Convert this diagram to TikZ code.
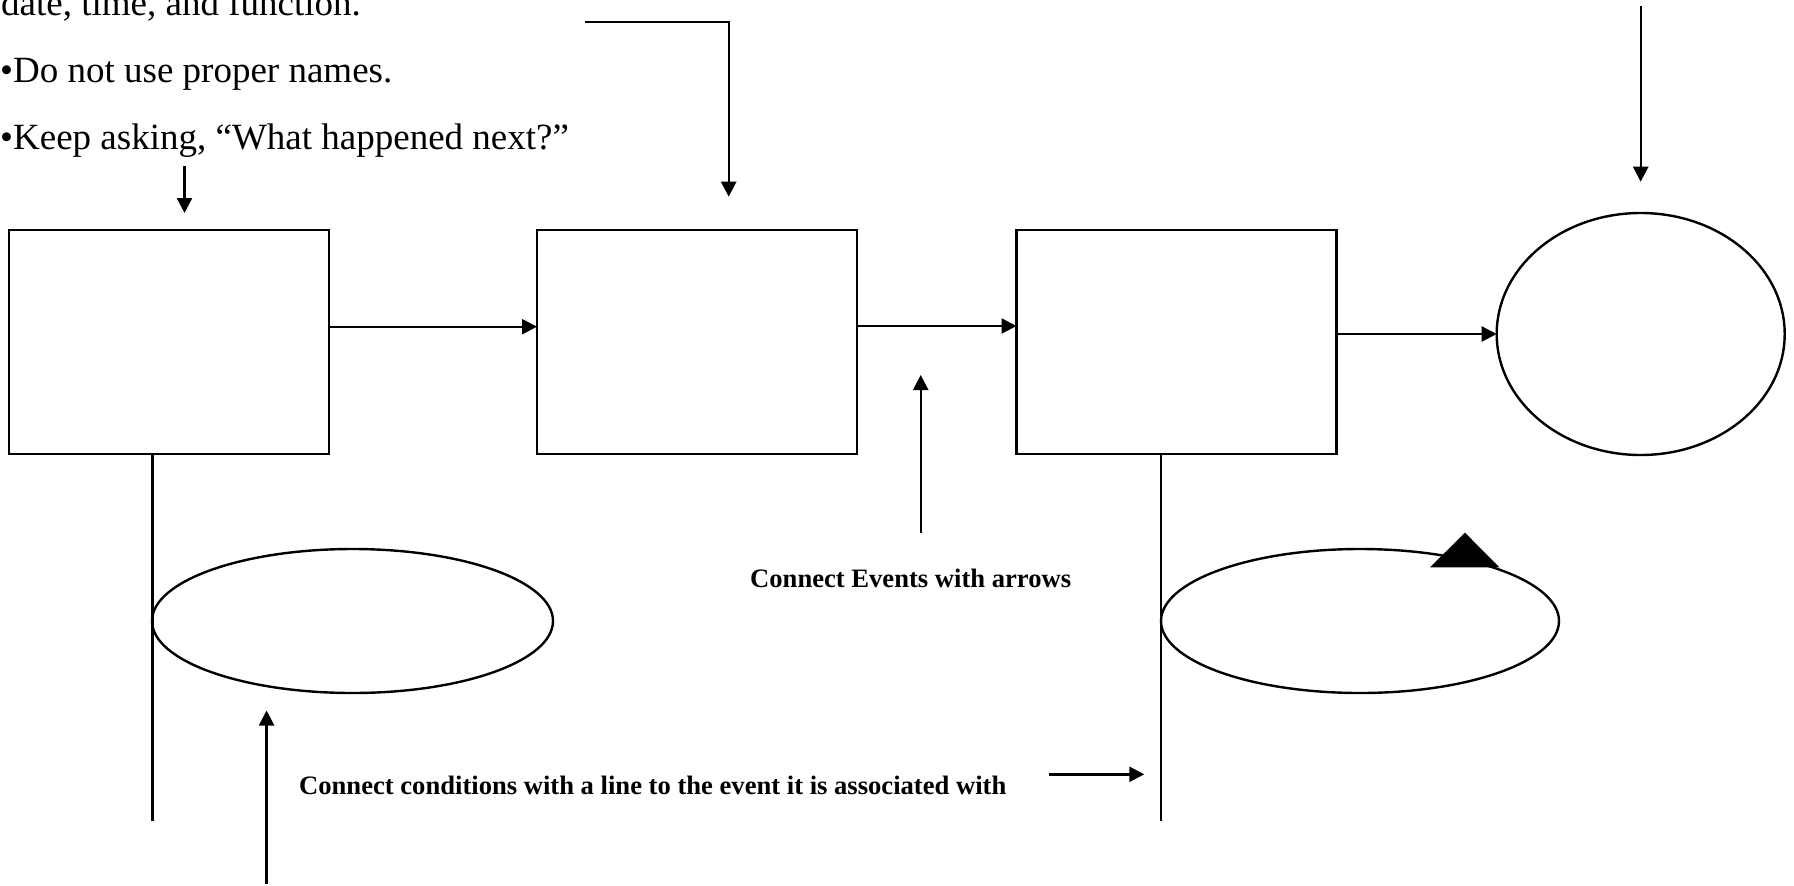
\documentclass[tikz,border=0pt]{standalone}
\usepackage{fontspec}
\setmainfont{Liberation Serif}
\usetikzlibrary{arrows.meta,shapes.geometric}
\begin{document}
\begin{tikzpicture}[x=1pt,y=-1pt,
  ln/.style={line width=2.4pt},
  arr/.style={line width=2.4pt,-{Triangle[length=15pt,width=15pt]}},
  evt/.style={draw,line width=2.4pt,rectangle,minimum width=320pt,minimum height=224pt,inner sep=0pt,outer sep=0pt},
  cond/.style={draw,line width=2.4pt,ellipse,inner sep=0pt,outer sep=0pt},
  big/.style={font=\fontsize{37}{44}\selectfont,anchor=base west,inner sep=0pt},
  lbl/.style={font=\fontsize{26.6}{32}\selectfont\bfseries,anchor=base west,inner sep=0pt}]
\useasboundingbox (0,0) rectangle (1794,886);
\clip (0,0) rectangle (1794,886);
% texts
\node[big] (t1) at (1,15) {date, time, and function.};
\node[big] (t2) at (0,82) {•Do not use proper names.};
\node[big] (t3) at (0,149) {•Keep asking, “What happened next?”};
\node[lbl] (le) at (750,587) {Connect Events with arrows};
\node[lbl] (lc) at (299,794) {Connect conditions with a line to the event it is associated with};
% events
\node[evt] (b1) at (169,342) {};
\node[evt] (b2) at (697,342) {};
\node[evt] (b3) at (1176.5,342) {};
\node[cond,minimum width=288pt,minimum height=242pt] (c) at (1640.7,334) {};
% conditions
\node[cond,minimum width=401pt,minimum height=144pt] (e1) at (352.5,621) {};
\node[cond,minimum width=398pt,minimum height=144pt] (e2) at (1360,621) {};
% coordinates
\coordinate (a1s) at (184.5,166);
\coordinate (a1e) at (184.5,213);
\coordinate (a2s) at (585,22);
\coordinate (a2k) at (728.7,22);
\coordinate (a2e) at (728.7,196.7);
\coordinate (a3s) at (1640.7,6);
\coordinate (a3e) at (1640.7,181.7);
\coordinate (l1) at (152.5,821);
\coordinate (l2) at (1161,821);
\coordinate (u1s) at (266.6,884);
\coordinate (u1e) at (266.6,710.5);
\coordinate (u2s) at (920.7,533);
\coordinate (u2e) at (920.7,375);
\coordinate (r1s) at (1049,774.3);
\coordinate (r1e) at (1144.3,774.3);
% connectors
\draw[arr] ([yshift=15.3pt]b1.east) -- ([yshift=15.3pt]b2.west);
\draw[arr] ([yshift=16pt]b2.east) -- ([yshift=16pt]b3.west);
\draw[arr] ([yshift=8pt]b3.east) -- (c.west);
\draw[ln] (b1.south -| l1) -- (l1);
\draw[ln] (b3.south -| l2) -- (l2);
\draw[arr] (a1s) -- (a1e);
\draw[arr] (a2s) -- (a2k) -- (a2e);
\draw[arr] (a3s) -- (a3e);
\draw[arr] (u1s) -- (u1e);
\draw[arr] (u2s) -- (u2e);
\draw[arr] (r1s) -- (r1e);
% stray triangle
\fill (1465,532.7) -- (1430,567.3) -- (1499.3,567.3) -- cycle;
\end{tikzpicture}
\end{document}
